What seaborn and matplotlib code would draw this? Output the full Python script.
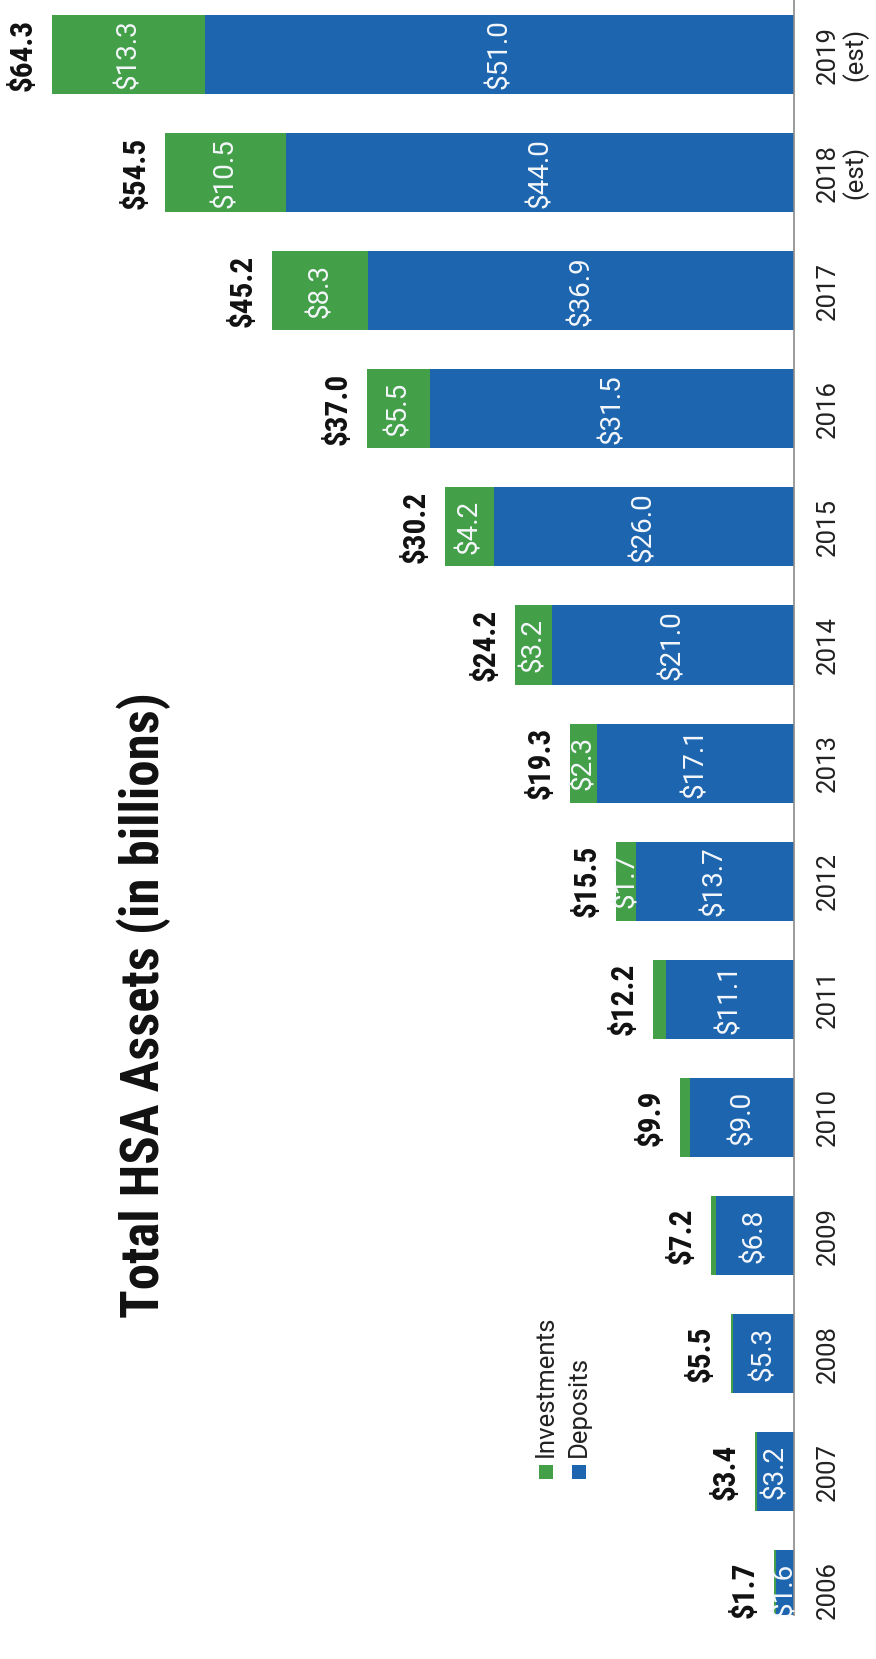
import matplotlib
matplotlib.use("Agg")
import matplotlib.pyplot as plt
import numpy as np
import pandas as pd
import seaborn as sns
from matplotlib import font_manager as fm
from matplotlib.patches import Rectangle

# ---------------- data ----------------
years = ["2006", "2007", "2008", "2009", "2010", "2011", "2012", "2013",
         "2014", "2015", "2016", "2017", "2018\n(est)", "2019\n(est)"]
deposits = [1.6, 3.2, 5.3, 6.8, 9.0, 11.1, 13.7, 17.1, 21.0, 26.0, 31.5, 36.9, 44.0, 51.0]
investments = [0.1, 0.2, 0.2, 0.4, 0.9, 1.1, 1.7, 2.3, 3.2, 4.2, 5.5, 8.3, 10.5, 13.3]
totals = [1.7, 3.4, 5.5, 7.2, 9.9, 12.2, 15.5, 19.3, 24.2, 30.2, 37.0, 45.2, 54.5, 64.3]
show_inv_label = [False, False, False, False, False, False,
                  True, True, True, True, True, True, True, True]
series_names = ["Investments", "Deposits"]
title = "Total HSA Assets (in billions)"

GREEN = "#43A048"
BLUE = "#1D66AF"

# ---------------- style ----------------
sns.set_theme(style="white")
names = {f.name for f in fm.fontManager.ttflist}
plt.rcParams["font.family"] = ["Roboto", "DejaVu Sans"]
narrow = next((n for n in ["Roboto Condensed", "Liberation Sans Narrow"] if n in names), None)
bold_family = [narrow, "Roboto", "DejaVu Sans"] if narrow else ["Roboto", "DejaVu Sans"]

W, H = 876, 1659
fig = plt.figure(figsize=(W / 100, H / 100), dpi=100)
fig.patch.set_facecolor("white")

axis_px = 794.0
px_per_unit = 11.54
top_px, bottom_px = 0.0, 1615.0
c0, step = 54.5, 118.1

ax = fig.add_axes([0, 1 - bottom_px / H, axis_px / W, (bottom_px - top_px) / H])

df = pd.DataFrame({
    "year": years[::-1],
    "deposits": deposits[::-1],
    "investments": investments[::-1],
})
df["stack"] = df["deposits"] + df["investments"]
order = years[::-1]

sns.barplot(data=df, x="stack", y="year", order=order, orient="h",
            color=GREEN, saturation=1, width=0.67, ax=ax, linewidth=0)
sns.barplot(data=df, x="deposits", y="year", order=order, orient="h",
            color=BLUE, saturation=1, width=0.67, ax=ax, linewidth=0)

ax.set_xlim(axis_px / px_per_unit, 0)
ax.set_ylim((bottom_px - c0) / step, (top_px - c0) / step)
ax.set_xlabel("")
ax.set_ylabel("")
ax.set_xticks([])
ax.set_facecolor("white")
for s in ["left", "top", "bottom"]:
    ax.spines[s].set_visible(False)
ax.spines["right"].set_visible(True)
ax.spines["right"].set_color("#8a8a8a")
ax.spines["right"].set_linewidth(1.2)

ax.yaxis.tick_right()
ax.tick_params(axis="y", length=0, pad=16, labelsize=18.5, labelcolor="#222222")
for lab in ax.get_yticklabels():
    lab.set_rotation(90)
    lab.set_ha("left")
    lab.set_va("center")
    lab.set_multialignment("center")
    lab.set_linespacing(1.05)

# labels
for k, (d, inv, tot, show) in enumerate(zip(df["deposits"], df["investments"],
                                            totals[::-1], show_inv_label[::-1])):
    ax.text(d / 2, k, f"${d:.1f}", rotation=90, ha="center", va="center",
            color="#f4f7fb", fontsize=20)
    if show:
        ax.text(d + inv / 2, k, f"${inv:.1f}", rotation=90, ha="center", va="center",
                color="#f4f7fb", fontsize=20)
    ax.annotate(f"${tot:.1f}", xy=(d + inv, k), xytext=(-10.5, 0),
                textcoords="offset points", rotation=90, ha="right", va="center",
                fontsize=22.5 if narrow else 19, fontweight="bold",
                family=bold_family, color="#111111")

# title
t = fig.text(144 / W, 1 - 1005 / H, title, rotation=90, ha="center", va="center",
             fontsize=30, fontweight="bold", family=bold_family, color="#111111")
fig.canvas.draw()
r = fig.canvas.get_renderer()
bb = t.get_window_extent(r)
t.set_fontsize(t.get_fontsize() * 626.0 / bb.height)

# legend
leg_colors = [GREEN, BLUE]
leg_x = [546, 579]
sq = 14
for name, col, xc in zip(series_names, leg_colors, leg_x):
    fig.add_artist(Rectangle(((xc - sq / 2) / W, 1 - (1472 + sq / 2) / H), sq / W, sq / H,
                             transform=fig.transFigure, color=col, lw=0))
    fig.text(xc / W, 1 - 1457 / H, name, rotation=90, ha="center", va="bottom",
             fontsize=18.5, color="#222222")

fig.savefig("out.png", dpi=100, facecolor="white")
